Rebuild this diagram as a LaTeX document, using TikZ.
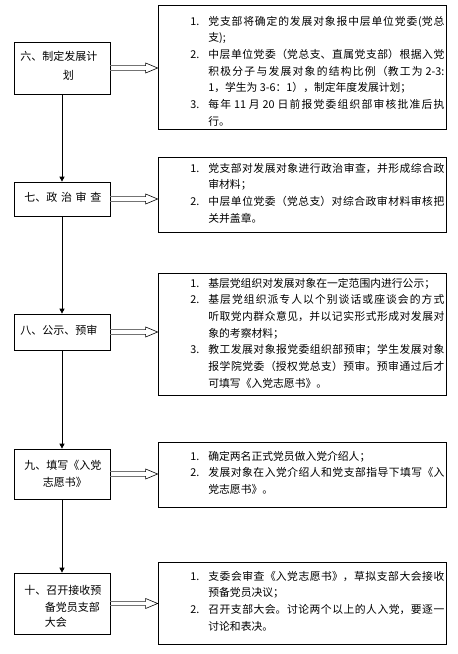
\documentclass[tikz,border=0pt]{standalone}
\usepackage{fontspec}
\setmainfont{Noto Sans CJK SC}
\usetikzlibrary{arrows.meta,calc}
\XeTeXlinebreaklocale "zh"
\XeTeXlinebreakskip=0pt plus 3pt
\tolerance=9999
\newcommand{\rfont}{\fontsize{10.8pt}{16.7pt}\selectfont}
\newcommand{\lfont}{\fontsize{11pt}{17pt}\selectfont}
\newcommand{\itm}[2]{\hangindent=18pt\hangafter=1\noindent\makebox[18pt][l]{#1}#2\par}
\newcommand{\dbl}[2]{%
  \draw[shaft] ($(#1.east)+(0,-2.2)$) -- ($(#2.west |- #1.east)+(-12,-2.2)$);
  \draw[shaft] ($(#1.east)+(0,2.2)$) -- ($(#2.west |- #1.east)+(-12,2.2)$);
  \draw[head] ($(#2.west |- #1.east)+(-12,-2.2)$) -- ($(#2.west |- #1.east)+(-12,-5)$) -- (#2.west |- #1.east) -- ($(#2.west |- #1.east)+(-12,5)$) -- ($(#2.west |- #1.east)+(-12,2.2)$);}
\begin{document}
\begin{tikzpicture}[x=1pt,y=-1pt,line width=0.7pt,
  lbox/.style={draw, minimum width=96pt, inner sep=0pt},
  rbox/.style={draw, minimum width=288pt, inner sep=0pt},
  ltext/.style={anchor=base west, inner sep=0pt, font=\lfont},
  rtext/.style={anchor=base west, inner sep=0pt, text width=254pt, align=justify, font=\rfont},
  varrow/.style={-{Triangle[width=5pt,length=5pt]}, line width=0.8pt},
  shaft/.style={draw=black!55, line width=1.3pt},
  head/.style={draw=black, line width=0.6pt}]
\fill[white] (0,0) rectangle (458,654);
\useasboundingbox (0,0) rectangle (458,654);

% left boxes
\node[lbox, minimum height=52pt] (l6) at (62,68) {};
\node[lbox, minimum height=34pt] (l7) at (62,199) {};
\node[lbox, minimum height=36pt] (l8) at (62,332) {};
\node[lbox, minimum height=50pt] (l9) at (62,474) {};
\node[lbox, minimum height=61pt] (l10) at (62,603.5) {};

% right boxes
\node[rbox, minimum height=124pt] (r6) at (302,67) {};
\node[rbox, minimum height=75pt] (r7) at (302,194.5) {};
\node[rbox, minimum height=122pt] (r8) at (302,334) {};
\node[rbox, minimum height=65pt] (r9) at (302,474.5) {};
\node[rbox, minimum height=82pt] (r10) at (302,603) {};

% left texts
\node[ltext] (t6a) at (20,60) {六、制定发展计};
\node[ltext] (t6b) at (62.5,79) {划};
\node[ltext] (t7) at (24,201) {\makebox[77pt][s]{七、政\hfill 治\hfill 审\hfill 查}};
\node[ltext] (t8) at (20,334) {八、公示、预审};
\node[ltext] (t9a) at (24,469) {九、填写《入党};
\node[ltext] (t9b) at (42.5,486) {志愿书》};
\node[ltext] (t10a) at (24,594) {十、召开接收预};
\node[ltext] (t10b) at (44.5,611) {备党员支部};
\node[ltext] (t10c) at (44.5,626) {大会};

% right texts
\node[rtext] (x6) at (190,25) {\rfont\baselineskip=16.7pt
\itm{1.}{党支部将确定的发展对象报中层单位党委(党总\linebreak 支);}
\itm{2.}{中层单位党委（党总支、直属党支部）根据入党\linebreak 积极分子与发展对象的结构比例（教工为 2-3:\linebreak 1，学生为 3-6：1），制定年度发展计划；}
\itm{3.}{每年 11 月 20 日前报党委组织部审核批准后执\linebreak 行。}};
\node[rtext] (x7) at (190,172) {\rfont\baselineskip=16.7pt
\itm{1.}{党支部对发展对象进行政治审查，并形成综合政\linebreak 审材料；}
\itm{2.}{中层单位党委（党总支）对综合政审材料审核把\linebreak 关并盖章。}};
\node[rtext] (x8) at (190,287) {\rfont\baselineskip=16.7pt
\itm{1.}{基层党组织对发展对象在一定范围内进行公示；}
\itm{2.}{基层党组织派专人以个别谈话或座谈会的方式\linebreak 听取党内群众意见，并以记实形式形成对发展对\linebreak 象的考察材料；}
\itm{3.}{教工发展对象报党委组织部预审；学生发展对象\linebreak 报学院党委（授权党总支）预审。预审通过后才\linebreak 可填写《入党志愿书》。}};
\node[rtext] (x9) at (190,460) {\rfont\baselineskip=16.7pt
\itm{1.}{确定两名正式党员做入党介绍人；}
\itm{2.}{发展对象在入党介绍人和党支部指导下填写《入\linebreak 党志愿书》。}};
\node[rtext] (x10) at (190,580) {\rfont\baselineskip=16.7pt
\itm{1.}{支委会审查《入党志愿书》，草拟支部大会接收\linebreak 预备党员决议；}
\itm{2.}{召开支部大会。讨论两个以上的人入党，要逐一\linebreak 讨论和表决。}};

% vertical arrows
\draw[varrow] (l6.south) -- (l7.north);
\draw[varrow] (l7.south) -- (l8.north);
\draw[varrow] (l8.south) -- (l9.north);
\draw[varrow] (l9.south) -- (l10.north);

% double arrows
\dbl{l6}{r6}
\dbl{l7}{r7}
\dbl{l8}{r8}
\dbl{l9}{r9}
\dbl{l10}{r10}
\end{tikzpicture}
\end{document}
